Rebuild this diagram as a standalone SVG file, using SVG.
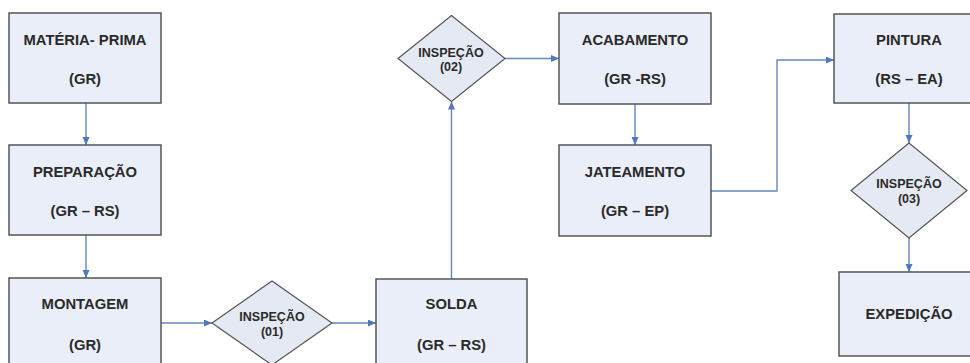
<svg xmlns="http://www.w3.org/2000/svg" width="970" height="363" viewBox="0 0 970 363">
<style>
.box{fill:#e9eef8;stroke:#555;stroke-width:1.5}
.dia{fill:#e4e9f3;stroke:#555;stroke-width:1.2}
.t{font-family:"Liberation Sans",Arial,sans-serif;font-weight:bold;font-size:14.8px;fill:#2a2a2a;text-anchor:middle}
.d{font-family:"Liberation Sans",Arial,sans-serif;font-weight:bold;font-size:12.5px;fill:#2a2a2a;text-anchor:middle}
.c{fill:none;stroke:#6487c4;stroke-width:1.4;marker-end:url(#ah)}
</style>
<defs>
<marker id="ah" markerUnits="userSpaceOnUse" markerWidth="9" markerHeight="8" refX="8" refY="3.5" orient="auto">
<path d="M0,0 L8,3.5 L0,7 z" fill="#4f78bd"/>
</marker>
</defs>
<rect width="970" height="363" fill="#fff"/>
<g id="connectors">
<path class="c" d="M86,103 V145"/>
<path class="c" d="M86,235 V278"/>
<path class="c" d="M161,323 H212"/>
<path class="c" d="M332,323 H376"/>
<path class="c" d="M451.5,279 V101.5"/>
<path class="c" d="M505,58.5 H559"/>
<path class="c" d="M635,104 V145"/>
<path class="c" d="M711,191 H777 V60 H834"/>
<path class="c" d="M909,103 V143"/>
<path class="c" d="M909,238 V272"/>
</g>
<g id="materia-prima">
<rect class="box" x="9" y="13" width="152" height="90"/>
<text class="t" x="85" y="45">MATÉRIA- PRIMA</text>
<text class="t" x="85" y="84">(GR)</text>
</g>
<g id="preparacao">
<rect class="box" x="9" y="145" width="152" height="90"/>
<text class="t" x="85" y="177">PREPARAÇÃO</text>
<text class="t" x="85" y="216">(GR – RS)</text>
</g>
<g id="montagem">
<rect class="box" x="9" y="278" width="152" height="92"/>
<text class="t" x="85" y="309">MONTAGEM</text>
<text class="t" x="85" y="350">(GR)</text>
</g>
<g id="inspecao01">
<polygon class="dia" points="212,323 272,281 332,323 272,365"/>
<text class="d" x="272" y="321">INSPEÇÃO</text>
<text class="d" x="272" y="336">(01)</text>
</g>
<g id="solda">
<rect class="box" x="376" y="279" width="151" height="92"/>
<text class="t" x="451.5" y="309">SOLDA</text>
<text class="t" x="451.5" y="350">(GR – RS)</text>
</g>
<g id="inspecao02">
<polygon class="dia" points="398,58.5 451.5,15.5 505,58.5 451.5,101.5"/>
<text class="d" x="451" y="57">INSPEÇÃO</text>
<text class="d" x="451" y="71">(02)</text>
</g>
<g id="acabamento">
<rect class="box" x="559" y="13" width="152" height="91"/>
<text class="t" x="635" y="45">ACABAMENTO</text>
<text class="t" x="635" y="84">(GR -RS)</text>
</g>
<g id="jateamento">
<rect class="box" x="559" y="145" width="152" height="91"/>
<text class="t" x="635" y="177">JATEAMENTO</text>
<text class="t" x="635" y="216">(GR – EP)</text>
</g>
<g id="pintura">
<rect class="box" x="834" y="14" width="150" height="89"/>
<text class="t" x="909" y="45">PINTURA</text>
<text class="t" x="909" y="84">(RS – EA)</text>
</g>
<g id="inspecao03">
<polygon class="dia" points="851,190.5 909,143 967,190.5 909,238"/>
<text class="d" x="909" y="188">INSPEÇÃO</text>
<text class="d" x="909" y="203">(03)</text>
</g>
<g id="expedicao">
<rect class="box" x="839" y="272" width="140" height="84"/>
<text class="t" x="909" y="319">EXPEDIÇÃO</text>
</g>
</svg>
